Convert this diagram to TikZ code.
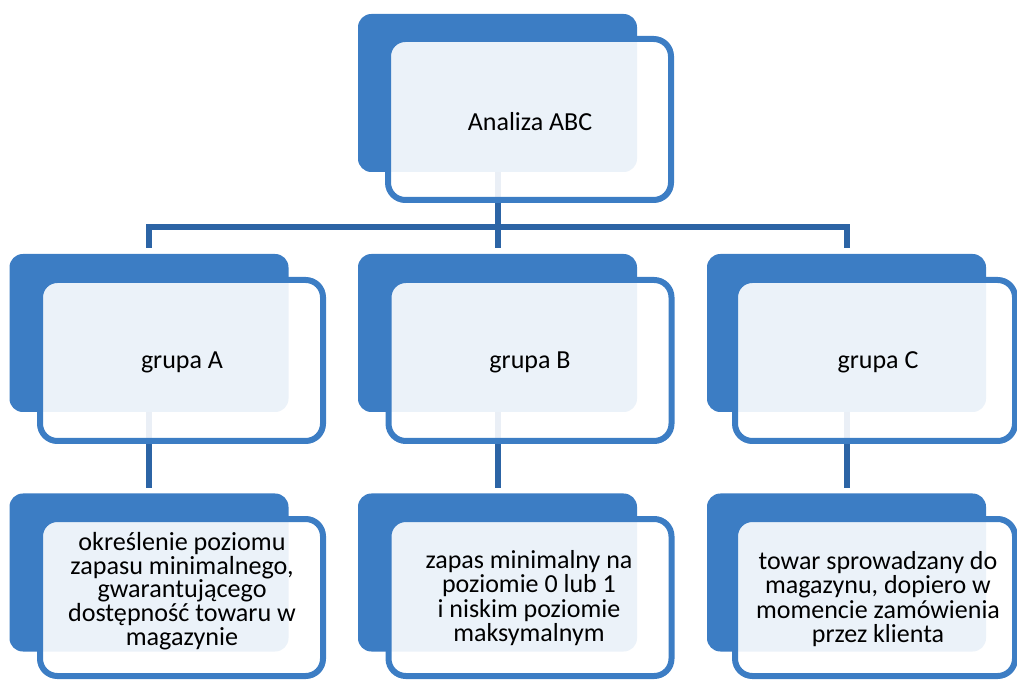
\documentclass[tikz,border=0pt]{standalone}
\usepackage{fontspec}
\setmainfont{Carlito}
\definecolor{boxblue}{RGB}{60,125,196}
\definecolor{lineblue}{RGB}{44,100,165}
\begin{document}
\begin{tikzpicture}[x=0.75pt,y=-0.75pt,
  backbox/.style={fill=boxblue, rounded corners=10pt, minimum width=209.25pt, minimum height=118.5pt, inner sep=0pt},
  frontbox/.style={draw=boxblue, line width=4.5pt, fill=white, fill opacity=0.9, rounded corners=13pt, minimum width=212.25pt, minimum height=120.75pt, inner sep=0pt},
  conn/.style={draw=lineblue, line width=4.5pt, line join=miter},
  lbl/.style={font=\fontsize{19.5}{18.4}\selectfont, align=center, text=black, inner sep=0pt},
  lblsmall/.style={font=\fontsize{19.6}{17.7}\selectfont, align=center, text=black, inner sep=0pt}]
\useasboundingbox (0,0) rectangle (1017,680);
% back boxes
\node[backbox] (b0) at (497.5,93) {};
\node[backbox] (bA) at (149,333) {};
\node[backbox] (bB) at (497.5,333) {};
\node[backbox] (bC) at (846.5,333) {};
\node[backbox] (dA) at (149,572.5) {};
\node[backbox] (dB) at (497.5,572.5) {};
\node[backbox] (dC) at (846.5,572.5) {};
% connectors
\coordinate (j) at (497.5,227);
\draw[conn] (b0.south) -- ([yshift=4.5pt]bB.north);
\draw[conn] ([yshift=4.5pt]bA.north) |- (j) -| ([yshift=4.5pt]bC.north);
\draw[conn] (bA.south) -- ([yshift=4pt]dA.north);
\draw[conn] (bB.south) -- ([yshift=4pt]dB.north);
\draw[conn] (bC.south) -- ([yshift=4pt]dC.north);
% front boxes
\node[frontbox] (f0) at (529.5,119.5) {};
\node[frontbox] (fA) at (181.5,360.5) {};
\node[frontbox] (fB) at (530,360.5) {};
\node[frontbox, minimum width=210pt] (fC) at (875,360.5) {};
\node[frontbox, minimum height=117.75pt] (gA) at (181.5,597.5) {};
\node[frontbox, minimum height=117.75pt] (gB) at (530,597.5) {};
\node[frontbox, minimum height=117.75pt, minimum width=210pt] (gC) at (875,597.5) {};
% texts
\node[lbl] (t0) at (530,122) {Analiza ABC};
\node[lbl] (tA) at (182,362) {grupa A};
\node[lbl] (tB) at (530,362) {grupa B};
\node[lbl] (tC) at (878,362) {grupa C};
\node[lblsmall] (uA) at (182,591) {określenie poziomu\\zapasu minimalnego,\\gwarantującego\\dostępność towaru w\\magazynie};
\node[lbl] (uB) at (529,598) {zapas minimalny na\\poziomie 0 lub 1\\i niskim poziomie\\maksymalnym};
\node[lbl] (uC) at (878,599) {towar sprowadzany do\\magazynu, dopiero w\\momencie zamówienia\\przez klienta};
\end{tikzpicture}
\end{document}
